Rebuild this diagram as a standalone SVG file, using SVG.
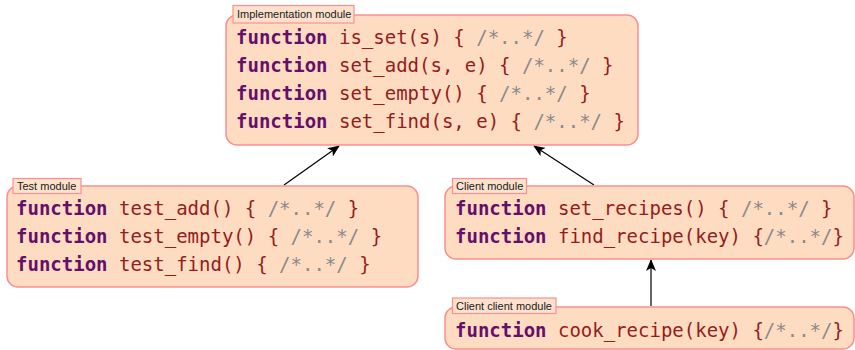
<svg xmlns="http://www.w3.org/2000/svg" width="855" height="350" viewBox="0 0 855 350">
  <style>
    .box { fill: #fedcc2; stroke: #fb8f8f; stroke-width: 1.5; }
    .tag { fill: #fde1cd; stroke: #fb8f8f; stroke-width: 1.2; }
    .tagtxt { font-family: "Liberation Sans", "DejaVu Sans", sans-serif; font-size: 11px; fill: #1a1a1a; }
    .code { font-family: "DejaVu Sans Mono", "Liberation Mono", monospace; font-size: 19px; fill: #951c1c; white-space: pre; }
    .kw { font-weight: bold; fill: #650f6a; }
    .cm { fill: #8a8a8a; }
    .edge { stroke: #000; stroke-width: 1.2; fill: none; marker-end: url(#arrow); }
  </style>
  <defs>
    <marker id="arrow" viewBox="0 0 12 10" refX="11" refY="5" markerWidth="12" markerHeight="10" markerUnits="userSpaceOnUse" orient="auto">
      <path d="M0,0 L12,5 L0,10 L3,5 Z" fill="#000"/>
    </marker>
  </defs>

  <rect width="855" height="350" fill="#fff"/>

  <g id="connectors">
    <line class="edge" x1="284" y1="185" x2="339" y2="146"/>
    <line class="edge" x1="594" y1="185" x2="534" y2="146"/>
    <line class="edge" x1="651" y1="306" x2="651" y2="260"/>
  </g>

  <g id="implementation">
    <rect class="box" x="226" y="15" width="412" height="130" rx="11"/>
    <rect class="tag" x="233" y="5.5" width="121" height="17.5"/>
    <text class="tagtxt" x="237" y="18">Implementation module</text>
    <text class="code" x="236" y="44"><tspan class="kw">function</tspan> is_set(s) { <tspan class="cm">/*..*/</tspan> }</text>
    <text class="code" x="236" y="72"><tspan class="kw">function</tspan> set_add(s, e) { <tspan class="cm">/*..*/</tspan> }</text>
    <text class="code" x="236" y="100"><tspan class="kw">function</tspan> set_empty() { <tspan class="cm">/*..*/</tspan> }</text>
    <text class="code" x="236" y="128"><tspan class="kw">function</tspan> set_find(s, e) { <tspan class="cm">/*..*/</tspan> }</text>
  </g>

  <g id="test">
    <rect class="box" x="7" y="186" width="411" height="101" rx="11"/>
    <rect class="tag" x="13" y="178.5" width="68" height="15"/>
    <text class="tagtxt" x="17" y="190">Test module</text>
    <text class="code" x="16" y="215"><tspan class="kw">function</tspan> test_add() { <tspan class="cm">/*..*/</tspan> }</text>
    <text class="code" x="16" y="243"><tspan class="kw">function</tspan> test_empty() { <tspan class="cm">/*..*/</tspan> }</text>
    <text class="code" x="16" y="271"><tspan class="kw">function</tspan> test_find() { <tspan class="cm">/*..*/</tspan> }</text>
  </g>

  <g id="client">
    <rect class="box" x="445" y="186" width="409" height="73" rx="11"/>
    <rect class="tag" x="452.5" y="178.5" width="74" height="15"/>
    <text class="tagtxt" x="456" y="190">Client module</text>
    <text class="code" x="455" y="215"><tspan class="kw">function</tspan> set_recipes() { <tspan class="cm">/*..*/</tspan> }</text>
    <text class="code" x="455" y="243"><tspan class="kw">function</tspan> find_recipe(key) {<tspan class="cm">/*..*/</tspan>}</text>
  </g>

  <g id="client-client">
    <rect class="box" x="445" y="307" width="409" height="42" rx="11"/>
    <rect class="tag" x="452.5" y="298" width="103.5" height="15.5"/>
    <text class="tagtxt" x="456" y="310">Client client module</text>
    <text class="code" x="455" y="337"><tspan class="kw">function</tspan> cook_recipe(key) {<tspan class="cm">/*..*/</tspan>}</text>
  </g>
</svg>
